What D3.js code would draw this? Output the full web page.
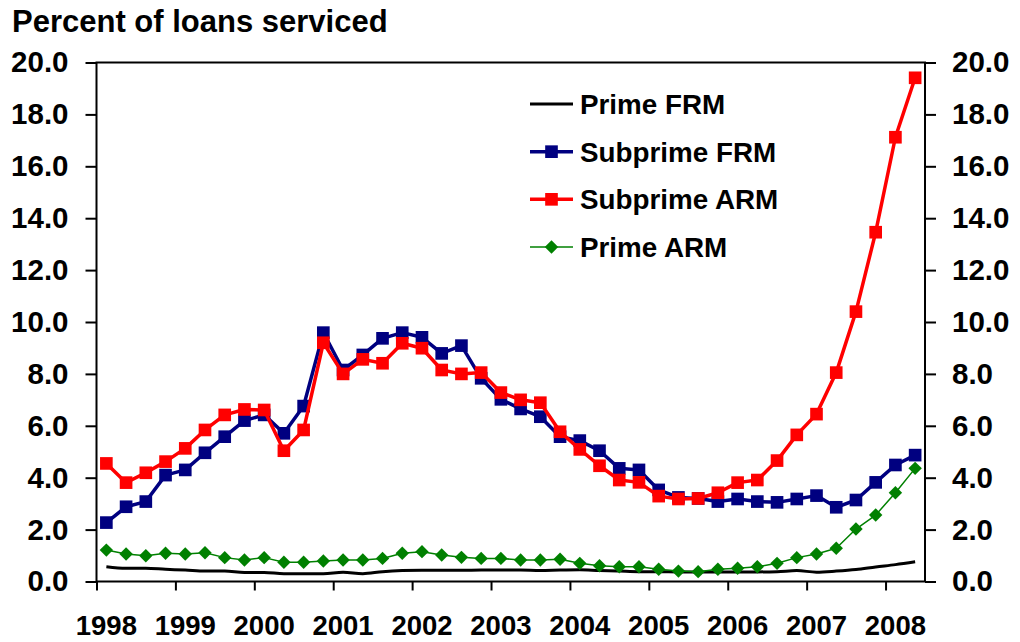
<!DOCTYPE html>
<html>
<head>
<meta charset="utf-8">
<script src="https://cdn.jsdelivr.net/npm/d3@7"></script>
<style>
  body { margin: 0; background: #fff; }
  svg text { font-family: "Liberation Sans", Arial, sans-serif; font-weight: bold; fill: #000; }
</style>
</head>
<body>
<div id="root"></div>
<script>
const quarters = [
  "1998Q1","1998Q2","1998Q3","1998Q4","1999Q1","1999Q2","1999Q3","1999Q4",
  "2000Q1","2000Q2","2000Q3","2000Q4","2001Q1","2001Q2","2001Q3","2001Q4",
  "2002Q1","2002Q2","2002Q3","2002Q4","2003Q1","2003Q2","2003Q3","2003Q4",
  "2004Q1","2004Q2","2004Q3","2004Q4","2005Q1","2005Q2","2005Q3","2005Q4",
  "2006Q1","2006Q2","2006Q3","2006Q4","2007Q1","2007Q2","2007Q3","2007Q4",
  "2008Q1","2008Q2"
];
const years = ["1998","1999","2000","2001","2002","2003","2004","2005","2006","2007","2008"];
const yTicks = [0, 2, 4, 6, 8, 10, 12, 14, 16, 18, 20];

const primeFRM = [
  0.57, 0.51, 0.51, 0.47, 0.44, 0.40, 0.40, 0.35, 0.35, 0.30, 0.30, 0.30,
  0.36, 0.30, 0.38, 0.42, 0.43, 0.43, 0.43, 0.44, 0.44, 0.44, 0.42, 0.44,
  0.45, 0.42, 0.40, 0.38, 0.38, 0.37, 0.37, 0.37, 0.37, 0.37, 0.38, 0.42,
  0.36, 0.40, 0.46, 0.56, 0.65, 0.76
];
const subprimeFRM = [
  2.27, 2.88, 3.08, 4.10, 4.30, 4.96, 5.58, 6.20, 6.42, 5.71, 6.76, 9.59,
  8.15, 8.73, 9.37, 9.59, 9.41, 8.79, 9.09, 7.83, 7.02, 6.65, 6.35, 5.58,
  5.43, 5.04, 4.36, 4.30, 3.53, 3.24, 3.20, 3.08, 3.18, 3.08, 3.05, 3.18,
  3.31, 2.86, 3.14, 3.82, 4.49, 4.87
];
const subprimeARM = [
  4.55, 3.81, 4.19, 4.62, 5.13, 5.84, 6.42, 6.63, 6.61, 5.04, 5.84, 9.20,
  8.00, 8.56, 8.41, 9.18, 8.99, 8.15, 8.00, 8.05, 7.28, 7.00, 6.89, 5.77,
  5.09, 4.46, 3.91, 3.82, 3.29, 3.18, 3.20, 3.42, 3.81, 3.91, 4.66, 5.65,
  6.45, 8.05, 10.40, 13.46, 17.12, 19.41
];
const primeARM = [
  1.21, 1.06, 0.99, 1.09, 1.06, 1.11, 0.92, 0.83, 0.92, 0.74, 0.74, 0.79,
  0.83, 0.83, 0.89, 1.09, 1.15, 1.02, 0.93, 0.89, 0.89, 0.83, 0.83, 0.86,
  0.70, 0.61, 0.57, 0.57, 0.47, 0.40, 0.38, 0.47, 0.51, 0.57, 0.70, 0.92,
  1.06, 1.28, 2.02, 2.56, 3.42, 4.36
];

const w = 1020;
const h = 642;
const plotLeft = 96.5, plotRight = 925, plotTop = 62.5, plotBottom = 581.5;

const svg = d3.select("#root")
  .append("svg")
  .attr("width", w)
  .attr("height", h);

const xScale = d3.scaleBand()
  .domain(quarters)
  .range([plotLeft, plotRight])
  .padding(0);
const xIdx = d3.scaleLinear()
  .domain([0, quarters.length])
  .range([plotLeft, plotRight]);
const yScale = d3.scaleLinear()
  .domain([0, 20])
  .range([plotBottom, plotTop]);
const cx = q => xScale(q) + xScale.bandwidth() / 2;

// frame
svg.append("rect")
  .attr("x", plotLeft)
  .attr("y", plotTop)
  .attr("width", plotRight - plotLeft)
  .attr("height", plotBottom - plotTop)
  .attr("fill", "none")
  .attr("stroke", "#000")
  .attr("stroke-width", 2);

// y axes
const yLeft = svg.append("g")
  .attr("transform", `translate(${plotLeft}, 0)`)
  .call(d3.axisLeft(yScale).tickValues(yTicks).tickFormat(d3.format(".1f")).tickSize(11).tickPadding(17));
const yRight = svg.append("g")
  .attr("transform", `translate(${plotRight}, 0)`)
  .call(d3.axisRight(yScale).tickValues(yTicks).tickFormat(d3.format(".1f")).tickSize(11).tickPadding(16));

// x tick marks at year boundaries
svg.append("g")
  .attr("class", "xticks")
  .attr("transform", `translate(0, ${plotBottom})`)
  .call(d3.axisBottom(xIdx).tickValues(d3.range(0, quarters.length, 4)).tickFormat("").tickSize(9));

// x labels centred on first quarter of each year
svg.append("g")
  .attr("class", "xlabels")
  .attr("transform", `translate(0, ${plotBottom})`)
  .call(d3.axisBottom(xScale).tickValues(years.map(y => y + "Q1")).tickFormat(d => d.slice(0, 4)).tickSize(0).tickPadding(34));

svg.selectAll(".domain").remove();
svg.selectAll(".tick line").attr("stroke", "#000").attr("stroke-width", 2);
yLeft.selectAll("text").style("font-size", "29.5px");
yRight.selectAll("text").style("font-size", "29.5px");
svg.select(".xlabels").selectAll("text").style("font-size", "27.5px");

// title
svg.append("text")
  .attr("x", 12)
  .attr("y", 32)
  .style("font-size", "31px")
  .text("Percent of loans serviced");

const series = [
  { name: "Prime FRM", values: primeFRM, color: "#000000", width: 3, marker: "none", curve: d3.curveMonotoneX },
  { name: "Subprime FRM", values: subprimeFRM, color: "#000080", width: 3.5, marker: "square", curve: d3.curveLinear },
  { name: "Subprime ARM", values: subprimeARM, color: "#ff0000", width: 3.5, marker: "square", curve: d3.curveLinear },
  { name: "Prime ARM", values: primeARM, color: "#008000", width: 1.5, marker: "diamond", curve: d3.curveLinear }
];

const symSquare = d3.symbol().type(d3.symbolSquare).size(160)();
const symDiamond = d3.symbol().type(d3.symbolSquare).size(90)();

series.forEach(s => {
  const line = d3.line()
    .x((d, i) => cx(quarters[i]))
    .y(d => yScale(d))
    .curve(s.curve);

  svg.append("path")
    .datum(s.values)
    .attr("fill", "none")
    .attr("stroke", s.color)
    .attr("stroke-width", s.width)
    .attr("stroke-linejoin", "round")
    .attr("d", line);

  if (s.marker !== "none") {
    svg.selectAll(null)
      .data(s.values)
      .enter()
      .append("path")
      .attr("d", s.marker === "square" ? symSquare : symDiamond)
      .attr("transform", (d, i) => `translate(${cx(quarters[i])}, ${yScale(d)})` + (s.marker === "diamond" ? " rotate(45)" : ""))
      .attr("fill", s.color);
  }
});

// legend
const legendGroup = svg.append("g")
  .attr("id", "legend");

const legendY = d3.scalePoint()
  .domain(series.map(s => s.name))
  .range([104, 247]);

series.forEach(s => {
  const y = legendY(s.name);
  legendGroup.append("line")
    .attr("x1", 530)
    .attr("x2", 573)
    .attr("y1", y)
    .attr("y2", y)
    .attr("stroke", s.color)
    .attr("stroke-width", s.width);
  if (s.marker !== "none") {
    legendGroup.append("path")
      .attr("d", s.marker === "square" ? symSquare : symDiamond)
      .attr("transform", `translate(551.5, ${y})` + (s.marker === "diamond" ? " rotate(45)" : ""))
      .attr("fill", s.color);
  }
  legendGroup.append("text")
    .attr("x", 580)
    .attr("y", y)
    .attr("dy", "0.36em")
    .style("font-size", "27.8px")
    .text(s.name);
});
</script>
</body>
</html>
